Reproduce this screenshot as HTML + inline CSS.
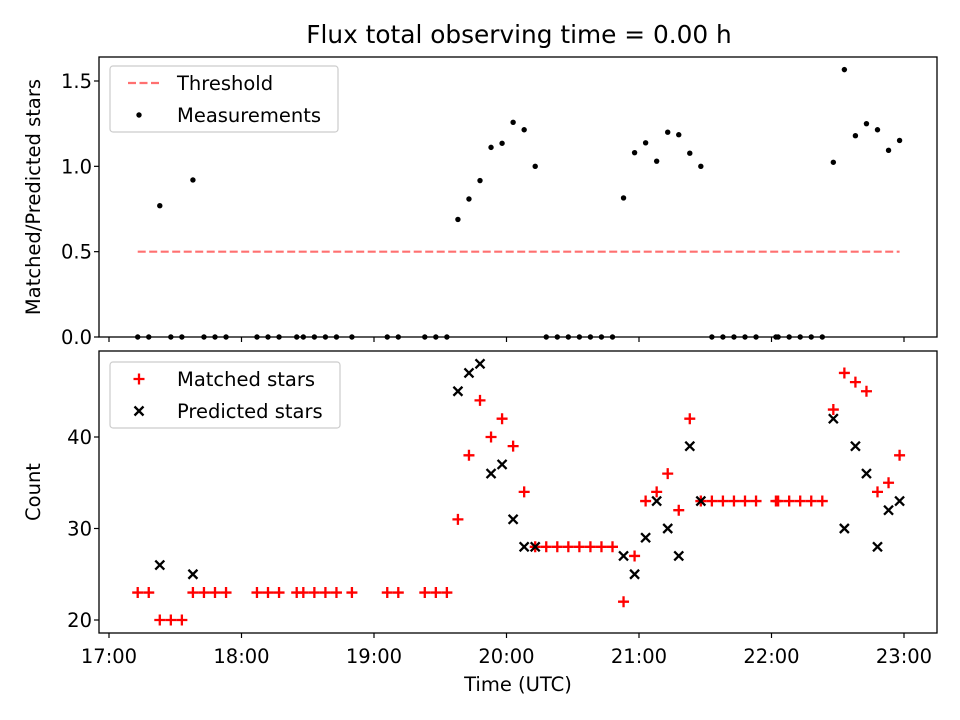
<!DOCTYPE html>
<html><head><meta charset="utf-8"><style>
body{margin:0;background:#fff}
svg{display:block;font-family:"DejaVu Sans","Liberation Sans",sans-serif}
</style></head><body>
<svg id="chart" width="960" height="720" xmlns="http://www.w3.org/2000/svg">
<text x="519" y="43" text-anchor="middle" font-size="24.8">Flux total observing time = 0.00 h</text>
<g id="topPanel"></g>
<g id="botPanel"></g>
</svg>
<script>
// minutes after 17:00
const times=[13,18,23,28,33,38,43,48,53,67,72,77,85,88,93,98,103,110,126,131,143,148,153,158,163,168,173,178,183,188,193,198,203,208,213,218,223,228,233,238,243,248,253,258,263,268,273,278,283,288,293,302,303,308,313,318,323,328,333,338,343,348,353,358];
const matched=[23,23,20,20,20,23,23,23,23,23,23,23,23,23,23,23,23,23,23,23,23,23,23,31,38,44,40,42,39,34,28,28,28,28,28,28,28,28,22,27,33,34,36,32,42,33,33,33,33,33,33,33,33,33,33,33,33,43,47,46,45,34,35,38];
const _=null;
const predicted=[_,_,26,_,_,25,_,_,_, _,_,_, _,_,_,_,_,_, _,_, _,_,_,
 45,47,48,36,37,31,28,28, _,_,_,_,_,_,_,
 27,25,29,33,30,27,39,33, _,_,_,_,_,_,_,_,_,_,_,
 42,30,39,36,28,32,33];
const xTickLabels=["17:00","18:00","19:00","20:00","21:00","22:00","23:00"];
const topTicks=[0,0.5,1.0,1.5];
const botTicks=[20,30,40];
const threshold=0.5;

const NS="http://www.w3.org/2000/svg";
function mk(p,tag,a){const e=document.createElementNS(NS,tag);for(const k in a)e.setAttribute(k,a[k]);p.appendChild(e);return e;}
const L=99,R=937;
const xs=m=>109+m/60*132.5;
const TB={top:57,bot:337}, BB={top:351,bot:633};
const yTop=v=>337-v*170.67;
const yBot=v=>620-(v-20)*9.15;
const topG=document.getElementById('topPanel'), botG=document.getElementById('botPanel');
const FS=19.5;

function axes(g,box,ticks,yf,fmt,labels,ylabel){
  ticks.forEach(t=>{const y=yf(t);
    const l=mk(g,'line',{x1:L-5,x2:L,y1:y,y2:y,stroke:'#000','stroke-width':1.2});
    
    const tx=mk(g,'text',{x:L-7,y:y+7,'text-anchor':'end','font-size':FS});tx.textContent=fmt(t);
    });
  xTickLabels.forEach((s,i)=>{const x=xs(i*60);
    const l=mk(g,'line',{x1:x,x2:x,y1:box.bot,y2:box.bot+5,stroke:'#000','stroke-width':1.2});
    
    if(labels){const tx=mk(g,'text',{x:x,y:box.bot+30,'text-anchor':'middle','font-size':FS});tx.textContent=s;
      }});
  const yl=mk(g,'text',{transform:`translate(40,${(box.top+box.bot)/2}) rotate(-90)`,'text-anchor':'middle','font-size':FS});
  yl.textContent=ylabel;
}
function frame(g,box){const r=mk(g,'rect',{x:L,y:box.top,width:R-L,height:box.bot-box.top,fill:'none',stroke:'#000','stroke-width':1.3});
  }

// top panel
axes(topG,TB,topTicks,yTop,t=>t.toFixed(1),false,'Matched/Predicted stars');
const th=mk(topG,'line',{x1:xs(times[0]),x2:xs(times[times.length-1]),y1:yTop(threshold),y2:yTop(threshold),stroke:'#ff7070','stroke-width':2.2,'stroke-dasharray':'8,3.5'});

times.forEach((t,i)=>{const r=predicted[i]?matched[i]/predicted[i]:0;
  const c=mk(topG,'circle',{cx:xs(t),cy:yTop(r),r:2.7,fill:'#000'});
  });
frame(topG,TB);

// bottom panel
axes(botG,BB,botTicks,yBot,t=>String(t),true,'Count');
times.forEach((t,i)=>{const x=xs(t),y=yBot(matched[i]);
  const p=mk(botG,'path',{d:`M${x-5.5},${y}H${x+5.5}M${x},${y-5.5}V${y+5.5}`,stroke:'#f00','stroke-width':2.3});
  });
times.forEach((t,i)=>{if(predicted[i]==null)return;const x=xs(t),y=yBot(predicted[i]),d=4.5;
  const p=mk(botG,'path',{d:`M${x-d},${y-d}L${x+d},${y+d}M${x-d},${y+d}L${x+d},${y-d}`,stroke:'#000','stroke-width':2.3});
  });
frame(botG,BB);
const xl=mk(botG,'text',{x:518,y:691,'text-anchor':'middle','font-size':FS});xl.textContent='Time (UTC)';


// legends
function legend(g,x,y,w,items){
  const r=mk(g,'rect',{x:x,y:y,width:w,height:66,rx:3,fill:'#fff','fill-opacity':0.85,stroke:'#ccc','stroke-width':1.2});
  
  items.forEach((it,i)=>{const cy=y+17+i*32;it.draw(x+29,cy);
    const tx=mk(g,'text',{x:x+67,y:cy+7,'font-size':FS});tx.textContent=it.label;
    });
}
legend(topG,110,66,228,[
 {label:'Threshold',draw:(x,y)=>{const l=mk(topG,'line',{x1:x-11,x2:x+22,y1:y,y2:y,stroke:'#ff7070','stroke-width':2.2,'stroke-dasharray':'8,3.5'});}},
 {label:'Measurements',draw:(x,y)=>{const c=mk(topG,'circle',{cx:x,cy:y,r:2.7,fill:'#000'});}}
]);
legend(botG,110,362,230,[
 {label:'Matched stars',draw:(x,y)=>{const p=mk(botG,'path',{d:`M${x-5.5},${y}H${x+5.5}M${x},${y-5.5}V${y+5.5}`,stroke:'#f00','stroke-width':2.3});}},
 {label:'Predicted stars',draw:(x,y)=>{const p=mk(botG,'path',{d:`M${x-4.5},${y-4.5}L${x+4.5},${y+4.5}M${x-4.5},${y+4.5}L${x+4.5},${y-4.5}`,stroke:'#000','stroke-width':2.3});}}
]);
</script>
</body></html>
